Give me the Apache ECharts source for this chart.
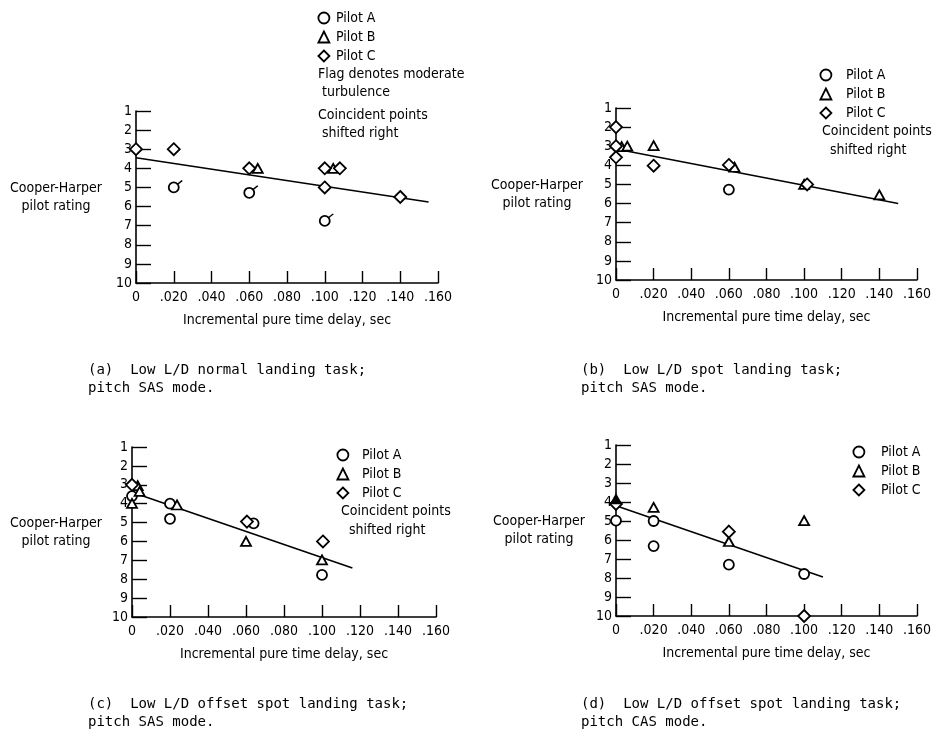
<!DOCTYPE html>
<html><head><meta charset="utf-8">
<script src="https://cdn.jsdelivr.net/npm/echarts@6/dist/echarts.min.js"></script>
<style>html,body{margin:0;padding:0;background:#fff}#c{width:934px;height:736px}</style>
</head><body><div id="c"></div>
<script>
// ---------- tick labels ----------
const xTickLabels = ['0', '.020', '.040', '.060', '.080', '.100', '.120', '.140', '.160'];
const yTickLabels = ['1', '2', '3', '4', '5', '6', '7', '8', '9', '10'];
const pilotNames = ['Pilot A', 'Pilot B', 'Pilot C'];
const xTitle = 'Incremental pure time delay, sec';
const yTitle = 'Cooper-Harper\npilot rating';

// ---------- (a) normal landing, pitch SAS ----------
const aPilotA = [[0.020, 5.0], [0.060, 5.28], [0.100, 6.75]];
const aFlagged = [[0.020, 5.0], [0.060, 5.28], [0.100, 6.75]];
const aPilotB = [[0.0645, 4.0], [0.1045, 4.0]];
const aPilotC = [[0, 3.0], [0.020, 3.0], [0.060, 4.0], [0.100, 4.0], [0.108, 4.0], [0.100, 5.0], [0.140, 5.5]];
const aFit = [[0, 3.45], [0.155, 5.76]];

// ---------- (b) spot landing, pitch SAS ----------
const bPilotA = [[0.060, 5.27]];
const bPilotB = [[0.003, 3.02], [0.006, 3.0], [0.020, 2.97], [0.063, 4.1], [0.100, 5.0], [0.140, 5.55]];
const bPilotC = [[0, 2.0], [0, 3.0], [0, 3.58], [0.020, 4.02], [0.060, 3.98], [0.1016, 5.0]];
const bFit = [[0, 3.15], [0.150, 6.0]];

// ---------- (c) offset spot landing, pitch SAS ----------
const cPilotA = [[0, 3.6], [0.020, 4.0], [0.020, 4.8], [0.064, 5.04], [0.100, 7.77]];
const cPilotB = [[0, 3.98], [0.003, 3.05], [0.004, 3.35], [0.0237, 4.07], [0.060, 6.0], [0.100, 6.98]];
const cPilotC = [[0, 3.0], [0.0605, 4.95], [0.1005, 6.0]];
const cFit = [[0, 3.4], [0.116, 7.4]];

// ---------- (d) offset spot landing, pitch CAS ----------
const dPilotA = [[0, 4.98], [0.020, 5.0], [0.020, 6.32], [0.060, 7.3], [0.100, 7.79]];
const dPilotB = [[0.020, 4.28], [0.060, 6.08], [0.100, 4.98]];
const dPilotBSolid = [[0, 3.85]];
const dPilotC = [[0, 4.1], [0.060, 5.56], [0.100, 10.0]];
const dFit = [[0, 4.2], [0.110, 7.95]];

// ---------- captions / notes ----------
const captions = [
  ['(a)  Low L/D normal landing task;', 'pitch SAS mode.'],
  ['(b)  Low L/D spot landing task;', 'pitch SAS mode.'],
  ['(c)  Low L/D offset spot landing task;', 'pitch SAS mode.'],
  ['(d)  Low L/D offset spot landing task;', 'pitch CAS mode.']
];
const notesA = ['Flag denotes moderate', ' turbulence', 'Coincident points', ' shifted right'];
const notesB = ['Coincident points', '  shifted right'];
const notesC = ['Coincident points', '  shifted right'];

// =====================================================
const FONT = "'Liberation Sans Narrow', 'DejaVu Sans Condensed', 'Roboto', sans-serif";
const MONO = "'DejaVu Sans Mono', 'Liberation Mono', monospace";
const BLACK = '#000';

const grids = [
  { left: 136, top: 111, width: 302, height: 172 },
  { left: 616, top: 108, width: 304, height: 172 },
  { left: 132, top: 447, width: 304, height: 170 },
  { left: 616, top: 445, width: 304, height: 171 }
];
const yNameGap = [80, 79, 76, 77];
const yNamePad = [4, 10, 8, 7];

const xAxes = grids.map((g, i) => ({
  type: 'value', gridIndex: i, min: 0, max: 0.16, interval: 0.02,
  axisLine: { onZero: false, lineStyle: { color: BLACK, width: 1.6 } },
  axisTick: { inside: true, length: 12, lineStyle: { color: BLACK, width: 1.4 } },
  axisLabel: { color: BLACK, fontFamily: FONT, fontSize: 14, margin: 7,
    formatter: v => xTickLabels[Math.round(v / 0.02)] },
  splitLine: { show: false },
  name: xTitle, nameLocation: 'middle', nameGap: 37,
  nameTextStyle: { color: BLACK, fontFamily: FONT, fontSize: 14, verticalAlign: 'middle' }
}));
const yAxes = grids.map((g, i) => ({
  type: 'value', gridIndex: i, min: 1, max: 10, interval: 1, inverse: true,
  axisLine: { lineStyle: { color: BLACK, width: 1.6 } },
  axisTick: { inside: true, length: 15, lineStyle: { color: BLACK, width: 1.4 } },
  axisLabel: { color: BLACK, fontFamily: FONT, fontSize: 14, margin: 4,
    formatter: v => yTickLabels[Math.round(v) - 1] },
  splitLine: { show: false },
  name: yTitle, nameLocation: 'middle', nameRotate: 0, nameGap: yNameGap[i],
  nameTextStyle: { color: BLACK, fontFamily: FONT, fontSize: 14, align: 'center',
    verticalAlign: 'middle', lineHeight: 18, padding: [yNamePad[i], 0, 0, 0] }
}));

const mk = { color: '#fff', borderColor: BLACK, borderWidth: 1.8, opacity: 1 };
function panelSeries(i, fit, A, B, C) {
  return [
    { type: 'line', xAxisIndex: i, yAxisIndex: i, data: fit, symbol: 'none', silent: true,
      lineStyle: { color: BLACK, width: 1.6 }, z: 1 },
    { type: 'scatter', name: 'Pilot A', xAxisIndex: i, yAxisIndex: i, data: A,
      symbol: 'circle', symbolSize: 10, itemStyle: mk, z: 3 },
    { type: 'scatter', name: 'Pilot B', xAxisIndex: i, yAxisIndex: i, data: B,
      symbol: 'triangle', symbolSize: [10, 9], itemStyle: mk, z: 3 },
    { type: 'scatter', name: 'Pilot C', xAxisIndex: i, yAxisIndex: i, data: C,
      symbol: 'diamond', symbolSize: 12, itemStyle: mk, z: 4 }
  ];
}
const series = [].concat(
  panelSeries(0, aFit, aPilotA, aPilotB, aPilotC),
  [{ type: 'scatter', name: 'flag', xAxisIndex: 0, yAxisIndex: 0, data: aFlagged,
     symbol: 'path://M0,6 L8,0', symbolSize: [5, 4], symbolOffset: [6, -5], silent: true,
     itemStyle: { color: 'transparent', borderColor: BLACK, borderWidth: 1.5, opacity: 1 }, z: 5 }],
  panelSeries(1, bFit, bPilotA, bPilotB, bPilotC),
  panelSeries(2, cFit, cPilotA, cPilotB, cPilotC),
  panelSeries(3, dFit, dPilotA, dPilotB, dPilotC),
  [{ type: 'scatter', name: 'Pilot B', xAxisIndex: 3, yAxisIndex: 3, data: dPilotBSolid,
     symbol: 'triangle', symbolSize: [10, 9], itemStyle: { color: BLACK, borderColor: BLACK, borderWidth: 1.5, opacity: 1 }, z: 5 }]
);

function legendAt(cx, cy, textX) {
  return {
    data: pilotNames.map((n, k) => ({ name: n, icon: ['circle', 'triangle', 'diamond'][k] })),
    orient: 'vertical', left: cx - 5.5, top: cy - 7, padding: 0, itemGap: 5,
    itemWidth: 11, itemHeight: 11, selectedMode: false,
    itemStyle: { color: '#fff', borderColor: BLACK, borderWidth: 1.8 },
    textStyle: { color: BLACK, fontFamily: FONT, fontSize: 14, padding: [0, 0, 0, Math.max(0, textX - (cx + 5.5 + 5))] }
  };
}
const legends = [legendAt(323, 18, 335), legendAt(825, 75, 845), legendAt(342, 455, 361), legendAt(858, 452, 880)];

function noteTexts(lines, xs, ys) {
  return lines.map((t, k) => ({ type: 'text', left: xs[k], top: ys[k] - 8,
    style: { text: t, fill: BLACK, font: '14px ' + FONT } }));
}
const capPos = [[88, 371], [581, 371], [88, 705], [581, 705]];
const graphics = [].concat(
  noteTexts(notesA, [318, 318, 318, 318], [75, 93, 116, 134]),
  noteTexts(notesB, [822, 822], [132, 151]),
  noteTexts(notesC, [341, 341], [512, 531]),
  ...captions.map((c, i) => c.map((t, k) => ({ type: 'text', left: capPos[i][0], top: capPos[i][1] + 18 * k - 8,
    style: { text: t, fill: BLACK, font: '14px ' + MONO } })))
);

const chart = echarts.init(document.getElementById('c'), null, { renderer: 'canvas' });
chart.setOption({
  animation: false,
  backgroundColor: '#fff',
  grid: grids,
  xAxis: xAxes,
  yAxis: yAxes,
  legend: legends,
  series: series,
  graphic: graphics
});
</script></body></html>
